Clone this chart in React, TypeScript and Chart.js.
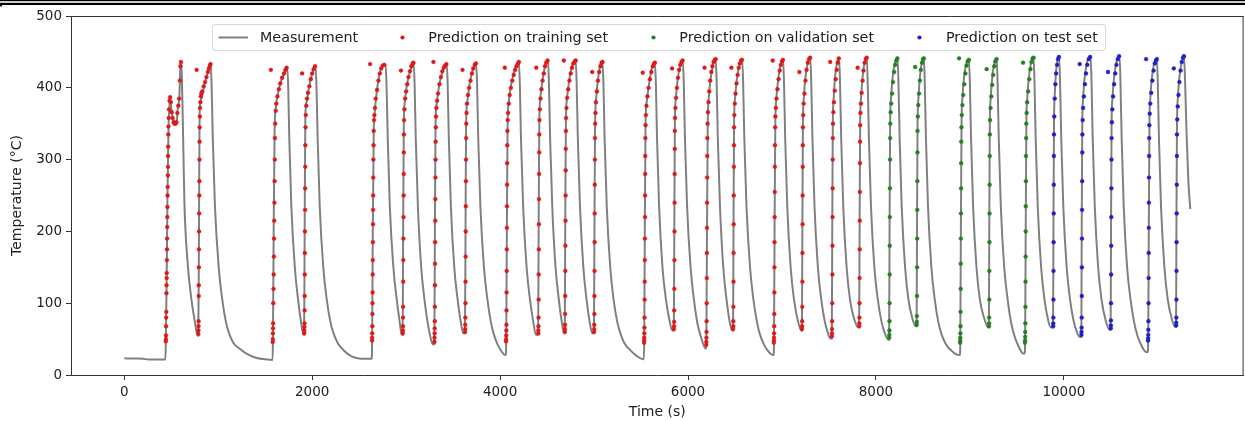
import React, { useEffect, useRef } from "react";
import Chart from "chart.js/auto";

const xTicks = [0, 2000, 4000, 6000, 8000, 10000];
const yTicks = [0, 100, 200, 300, 400, 500];
const xTitle = "Time (s)";
const yTitle = "Temperature (°C)";
const legendLabels = [
  "Measurement",
  "Prediction on training set",
  "Prediction on validation set",
  "Prediction on test set",
];

// Measured temperature [time s, °C]
const measurement: number[][] = [
  [0,23.2],[120,23],[200,22.6],[260,21.6],[438,21.5],
  [442,47],[450,120],[460,250],[470,340],[488,387],[505,366],[530,351],[555,350],[570,372],[585,385],[598,432],[605,436],[612,420],[625,340],[640,240],[675,155],[712,108],[750,75],[780,55],
  [788,55],[795,200],[802,369],[820,385],[855,406],[890,422],[910,432],[920,433],[930,400],[942,330],[965,235],[1005,150],[1043,105],[1080,75],[1110,60],[1160,45],[1235,36],[1310,29],[1400,24],[1520,21.5],[1576,21],
  [1578,21],[1582,46],[1590,200],[1600,340],[1615,375],[1640,395],[1670,410],[1700,420],[1725,427],[1735,428],[1745,400],[1756,330],[1778,235],[1815,150],[1850,105],[1880,75],[1908,56],
  [1914,56],[1920,200],[1927,360],[1940,380],[1965,400],[1995,418],[2020,428],[2036,430],[2046,400],[2058,330],[2080,235],[2118,150],[2155,105],[2192,75],[2222,60],[2270,45],[2345,33],[2420,26],[2500,23],[2630,22.5],
  [2634,23],[2638,49],[2645,200],[2655,340],[2665,365],[2690,397],[2718,420],[2746,430],[2770,432],[2782,432],[2792,400],[2804,330],[2826,235],[2864,150],[2900,105],[2930,75],[2953,56],
  [2963,56],[2968,200],[2975,350],[2985,380],[3010,405],[3040,422],[3065,432],[3080,435],[3090,405],[3102,330],[3125,235],[3160,150],[3195,105],[3230,72],[3260,52],[3282,43],
  [3300,43],[3306,200],[3313,350],[3325,378],[3350,402],[3380,420],[3410,430],[3432,433],[3442,405],[3454,330],[3476,235],[3512,150],[3548,105],[3580,75],[3608,58],
  [3626,58],[3632,200],[3638,350],[3650,380],[3675,405],[3705,423],[3730,432],[3745,434],[3755,405],[3767,330],[3790,235],[3828,150],[3865,105],[3900,75],[3930,58],[3975,42],[4020,32],[4051,28],
  [4061,28],[4065,50],[4072,200],[4080,350],[4092,380],[4115,403],[4145,420],[4175,432],[4200,436],[4210,405],[4222,330],[4245,235],[4282,150],[4318,105],[4352,75],[4380,56],
  [4405,56],[4410,200],[4417,350],[4428,385],[4450,410],[4475,428],[4497,437],[4510,438],[4520,405],[4532,330],[4555,235],[4590,150],[4625,105],[4655,75],[4681,58],
  [4688,58],[4693,200],[4700,350],[4712,385],[4735,410],[4760,428],[4790,437],[4805,438],[4815,405],[4827,330],[4850,235],[4886,150],[4920,105],[4952,75],[4981,58],
  [4999,58],[5004,200],[5011,350],[5022,385],[5040,410],[5060,428],[5080,436],[5090,436],[5100,405],[5112,330],[5135,235],[5172,150],[5208,105],[5245,75],[5275,60],[5320,45],[5390,34],[5460,26],[5523,22],
  [5530,22],[5534,50],[5540,200],[5548,350],[5560,380],[5585,405],[5610,425],[5635,434],[5648,435],[5658,405],[5670,330],[5692,235],[5728,150],[5765,105],[5800,78],[5831,62],
  [5849,62],[5854,200],[5860,350],[5870,385],[5890,412],[5915,430],[5935,437],[5945,438],[5955,405],[5967,330],[5990,235],[6027,150],[6063,105],[6100,72],[6140,52],[6186,37],
  [6192,37],[6196,60],[6202,200],[6210,350],[6220,385],[6240,412],[6262,430],[6282,439],[6295,440],[6305,405],[6317,330],[6340,235],[6375,150],[6410,105],[6442,75],[6468,62],
  [6479,62],[6484,200],[6490,350],[6500,385],[6520,412],[6545,430],[6565,438],[6577,439],[6587,405],[6599,330],[6622,235],[6660,150],[6696,105],[6732,75],[6762,58],[6810,42],[6860,32],[6901,28],
  [6911,28],[6915,50],[6921,200],[6929,350],[6940,385],[6960,412],[6982,430],[7000,438],[7012,439],[7022,405],[7034,330],[7056,235],[7092,150],[7128,105],[7170,75],[7205,62],
  [7212,62],[7217,200],[7223,350],[7232,385],[7250,415],[7272,433],[7290,441],[7302,442],[7312,405],[7324,330],[7346,235],[7382,150],[7418,105],[7455,75],[7485,60],[7513,51],
  [7530,51],[7535,200],[7541,350],[7550,385],[7565,415],[7582,433],[7598,441],[7608,441],[7618,405],[7630,330],[7652,235],[7688,150],[7724,105],[7760,82],[7814,66],
  [7821,66],[7826,200],[7832,350],[7841,385],[7858,415],[7876,433],[7892,441],[7903,442],[7913,405],[7925,330],[7947,235],[7983,150],[8020,105],[8058,75],[8095,58],[8132,49],
  [8140,49],[8145,200],[8151,350],[8160,385],[8178,415],[8198,433],[8215,440],[8230,441],[8240,405],[8252,330],[8274,235],[8310,150],[8346,105],[8385,80],[8422,68],
  [8433,68],[8437,200],[8443,350],[8452,385],[8468,415],[8485,433],[8500,440],[8510,441],[8520,405],[8532,330],[8554,235],[8590,150],[8626,105],[8662,75],[8695,58],[8745,43],[8810,33],[8876,28],
  [8894,28],[8898,50],[8904,200],[8911,350],[8920,385],[8938,415],[8958,432],[8975,438],[8990,439],[9000,405],[9012,330],[9034,235],[9070,150],[9106,105],[9150,80],[9195,66],
  [9202,66],[9206,200],[9212,350],[9221,385],[9238,415],[9256,432],[9272,439],[9285,440],[9295,405],[9307,330],[9329,235],[9365,150],[9402,105],[9440,72],[9480,52],[9525,38],[9566,30],
  [9584,30],[9588,55],[9594,200],[9601,350],[9610,385],[9628,415],[9648,433],[9665,441],[9678,442],[9688,405],[9700,330],[9722,235],[9758,150],[9794,105],[9830,78],[9861,66],
  [9885,66],[9889,200],[9895,350],[9903,390],[9915,420],[9930,437],[9942,443],[9950,443],[9960,405],[9972,330],[9994,235],[10030,150],[10066,105],[10103,76],[10138,60],[10169,53],
  [10186,53],[10190,200],[10196,350],[10205,385],[10222,415],[10242,433],[10260,441],[10285,443],[10295,405],[10307,330],[10329,235],[10365,150],[10401,105],[10445,76],[10487,63],
  [10498,63],[10502,200],[10508,350],[10517,385],[10535,415],[10555,433],[10572,441],[10593,444],[10603,405],[10615,330],[10637,235],[10673,150],[10710,105],[10747,74],[10785,54],[10830,40],[10876,32],
  [10894,32],[10898,55],[10904,200],[10911,350],[10920,385],[10938,415],[10958,432],[10978,439],[10990,440],[11000,405],[11012,330],[11034,235],[11070,150],[11106,105],[11145,80],[11184,67],
  [11194,67],[11198,200],[11204,350],[11213,385],[11230,415],[11250,433],[11268,442],[11278,444],[11290,410],[11305,340],[11325,270],[11346,231],
];

// Predictions on training set (cycles 1-20)
const trainPred: number[][] = [
  [442,47],[443,50],[444,55],[445,68],[446,80],[447,88],[449,114],[450,125],[451,135],[452,142],[454,160],[455,175],[456,190],[457,206],[458,220],[459,234],[461,250],[462,262],[464,278],[465,290],[466,305],[467,318],[469,335],[470,346],[473,358],[476,370],[482,382],[488,387],[495,380],[505,366],[515,358],[525,352],[535,350],[545,350],[555,352],[565,365],[575,375],[585,385],[592,410],[598,430],[603,436],
  [770,425],[788,57],[789,62],[790,68],[791,75],[792,110],[793,125],[794,150],[795,175],[796,200],[797,225],[798,250],[799,270],[800,300],[801,325],[802,345],[804,360],[806,372],[810,380],[815,388],[820,392],[830,395],[845,402],[860,408],[875,415],[890,422],[900,427],[910,431],[918,433],
  [1560,425],[1580,46],[1581,50],[1582,58],[1583,65],[1584,72],[1586,100],[1588,120],[1590,140],[1592,165],[1594,190],[1596,215],[1598,240],[1600,270],[1602,300],[1604,330],[1607,350],[1612,368],[1618,378],[1630,388],[1645,398],[1660,406],[1680,414],[1700,420],[1715,425],[1728,428],
  [1893,420],[1915,58],[1916,62],[1917,67],[1918,72],[1919,90],[1920,110],[1921,140],[1922,170],[1923,200],[1924,230],[1925,260],[1926,290],[1927,320],[1929,345],[1932,362],[1937,375],[1945,385],[1955,393],[1970,402],[1985,412],[2000,420],[2015,426],[2030,430],
  [2616,433],[2637,48],[2638,52],[2639,58],[2640,68],[2641,85],[2642,100],[2643,115],[2644,140],[2645,160],[2646,185],[2647,210],[2648,230],[2649,250],[2650,275],[2651,300],[2653,320],[2655,340],[2658,355],[2662,362],[2668,372],[2676,385],[2690,397],[2705,410],[2720,420],[2735,427],[2750,431],[2768,432],
  [2945,424],[2964,58],[2965,62],[2966,68],[2967,80],[2968,95],[2969,130],[2970,160],[2971,190],[2972,220],[2973,250],[2974,280],[2975,310],[2976,335],[2978,355],[2982,370],[2990,385],[3000,395],[3012,405],[3025,415],[3040,423],[3055,430],[3070,434],[3078,435],
  [3290,436],[3301,46],[3302,52],[3303,58],[3304,65],[3305,75],[3306,95],[3307,125],[3308,155],[3309,185],[3310,215],[3311,245],[3312,275],[3313,300],[3314,325],[3316,345],[3318,360],[3322,372],[3330,382],[3340,392],[3355,405],[3370,415],[3385,423],[3400,428],[3415,431],[3428,433],
  [3600,425],[3627,60],[3628,64],[3629,70],[3630,80],[3631,100],[3632,130],[3633,165],[3634,200],[3635,235],[3636,270],[3637,300],[3638,330],[3640,350],[3643,365],[3648,378],[3658,390],[3670,400],[3685,410],[3700,420],[3715,427],[3730,432],[3742,434],
  [4050,428],[4063,47],[4064,50],[4065,55],[4066,62],[4067,70],[4068,90],[4069,115],[4070,145],[4071,175],[4072,205],[4073,235],[4074,265],[4075,295],[4076,320],[4078,340],[4081,355],[4085,365],[4092,378],[4102,390],[4115,400],[4130,410],[4145,418],[4160,425],[4175,430],[4190,434],[4200,436],
  [4385,428],[4406,58],[4407,62],[4408,68],[4409,80],[4410,105],[4411,140],[4412,175],[4413,210],[4414,245],[4415,280],[4416,310],[4417,335],[4419,355],[4423,370],[4430,385],[4440,398],[4452,410],[4465,420],[4478,430],[4490,435],[4505,438],
  [4678,438],[4689,60],[4690,64],[4691,70],[4692,85],[4693,110],[4694,145],[4695,180],[4696,215],[4697,250],[4698,285],[4699,315],[4700,340],[4702,358],[4706,372],[4714,386],[4725,398],[4738,410],[4752,420],[4766,428],[4780,434],[4795,437],[4805,438],
  [4981,422],[5000,60],[5001,64],[5002,70],[5003,85],[5004,110],[5005,145],[5006,185],[5007,225],[5008,265],[5009,300],[5010,330],[5012,350],[5015,365],[5020,380],[5030,395],[5042,410],[5055,422],[5068,430],[5080,435],[5090,436],
  [5518,421],[5532,45],[5533,48],[5534,52],[5535,58],[5536,66],[5537,80],[5538,105],[5539,130],[5540,160],[5541,190],[5542,220],[5543,250],[5544,280],[5545,305],[5546,330],[5548,348],[5552,362],[5558,375],[5568,388],[5580,400],[5595,412],[5610,422],[5625,430],[5640,434],[5648,435],
  [5830,427],[5850,64],[5851,68],[5852,74],[5853,90],[5854,120],[5855,160],[5856,200],[5857,240],[5858,280],[5859,315],[5860,340],[5862,358],[5866,372],[5873,386],[5882,400],[5893,414],[5905,425],[5918,432],[5930,436],[5942,438],
  [6176,428],[6194,42],[6195,46],[6196,52],[6197,60],[6198,75],[6199,100],[6200,135],[6201,170],[6202,205],[6203,240],[6204,275],[6205,305],[6206,330],[6208,350],[6212,366],[6218,380],[6226,395],[6236,410],[6248,422],[6260,430],[6272,436],[6285,439],[6295,440],
  [6462,428],[6480,64],[6481,68],[6482,75],[6483,95],[6484,130],[6485,170],[6486,210],[6487,250],[6488,290],[6489,320],[6490,345],[6493,362],[6498,378],[6506,392],[6516,406],[6528,418],[6540,428],[6552,434],[6565,438],[6575,439],
  [6901,438],[6913,45],[6914,48],[6915,52],[6916,58],[6917,68],[6918,85],[6919,115],[6920,150],[6921,185],[6922,220],[6923,255],[6924,290],[6925,320],[6927,345],[6930,360],[6935,372],[6942,385],[6952,398],[6964,412],[6976,424],[6988,432],[7000,437],[7010,439],
  [7185,422],[7213,64],[7214,68],[7215,75],[7216,95],[7217,130],[7218,170],[7219,210],[7220,250],[7221,290],[7222,320],[7223,345],[7226,362],[7231,378],[7239,392],[7250,410],[7262,425],[7275,435],[7288,440],[7300,442],
  [7513,436],[7531,54],[7532,58],[7533,64],[7534,75],[7535,100],[7536,140],[7537,180],[7538,220],[7539,260],[7540,300],[7541,330],[7543,350],[7547,366],[7553,380],[7562,396],[7572,412],[7583,425],[7594,435],[7605,441],
  [7805,428],[7822,68],[7823,72],[7824,80],[7825,100],[7826,135],[7827,175],[7828,215],[7829,255],[7830,295],[7831,325],[7832,348],[7835,365],[7840,378],[7848,393],[7858,410],[7868,424],[7880,435],[7892,440],[7902,442],
];

// Predictions on validation set (cycles 21-25)
const valPred: number[][] = [
  [8141,52],[8142,56],[8143,62],[8144,75],[8145,100],[8146,140],[8147,180],[8148,220],[8149,260],[8150,300],[8151,330],[8153,350],[8157,366],[8163,378],[8172,392],[8182,408],[8194,422],[8206,432],[8218,438],[8228,441],
  [8417,429],[8434,70],[8435,74],[8436,82],[8437,110],[8438,150],[8439,190],[8440,230],[8441,270],[8442,310],[8443,340],[8446,360],[8451,376],[8459,392],[8468,410],[8478,425],[8490,435],[8500,440],[8510,441],
  [8885,441],[8896,45],[8897,48],[8898,52],[8899,58],[8900,68],[8901,88],[8902,120],[8903,155],[8904,190],[8905,225],[8906,260],[8907,295],[8908,325],[8910,345],[8914,362],[8920,376],[8929,390],[8940,405],[8952,420],[8965,431],[8978,437],[8990,439],
  [9178,426],[9203,68],[9204,72],[9205,80],[9206,105],[9207,145],[9208,185],[9209,225],[9210,265],[9211,305],[9212,335],[9215,355],[9220,372],[9228,388],[9238,404],[9248,418],[9260,430],[9272,437],[9284,440],
  [9566,435],[9586,45],[9587,48],[9588,53],[9589,60],[9590,72],[9591,95],[9592,130],[9593,165],[9594,200],[9595,235],[9596,270],[9597,305],[9598,330],[9600,350],[9604,365],[9610,380],[9620,395],[9632,412],[9644,426],[9656,436],[9668,441],[9678,442],
];

// Predictions on test set (cycles 26-30)
const testPred: number[][] = [
  [9886,68],[9887,72],[9888,80],[9889,105],[9890,145],[9891,185],[9892,225],[9893,265],[9894,305],[9895,335],[9898,360],[9903,385],[9910,405],[9918,420],[9928,432],[9938,440],[9948,443],
  [10169,433],[10187,56],[10188,60],[10189,66],[10190,80],[10191,110],[10192,150],[10193,190],[10194,230],[10195,270],[10196,310],[10197,335],[10200,355],[10205,372],[10213,388],[10224,405],[10236,420],[10250,432],[10265,440],[10280,443],
  [10470,422],[10499,65],[10500,69],[10501,76],[10502,100],[10503,140],[10504,180],[10505,220],[10506,260],[10507,300],[10508,330],[10511,352],[10516,370],[10524,388],[10535,405],[10547,420],[10560,432],[10574,440],[10588,444],
  [10875,440],[10896,48],[10897,51],[10898,56],[10899,63],[10900,75],[10901,100],[10902,135],[10903,170],[10904,205],[10905,240],[10906,275],[10907,305],[10908,330],[10910,348],[10914,364],[10920,378],[10930,393],[10942,410],[10955,424],[10968,434],[10980,438],[10990,440],
  [11170,427],[11195,69],[11196,73],[11197,80],[11198,105],[11199,145],[11200,185],[11201,225],[11202,265],[11203,305],[11204,335],[11207,356],[11212,374],[11220,390],[11230,408],[11242,424],[11255,436],[11268,442],[11278,444],
];

const GRAY = "#808080";
const RED = "rgb(222,24,24)";
const GREEN = "rgb(34,128,34)";
const BLUE = "rgb(30,30,205)";
const TEXT = "#222";
const FONT = "'DejaVu Sans', sans-serif";

const toXY = (arr: number[][]) => arr.map(([x, y]) => ({ x, y }));

const decorPlugin = {
  id: "decor",
  beforeDraw(chart: any) {
    const ctx = chart.ctx;
    ctx.save();
    ctx.fillStyle = "#fff";
    ctx.fillRect(0, 0, chart.width, chart.height);
    ctx.restore();
  },
  afterDraw(chart: any) {
    const ctx = chart.ctx;
    const { left, top, right, bottom } = chart.chartArea;
    ctx.save();
    ctx.strokeStyle = "#333";
    ctx.lineWidth = 1;
    ctx.beginPath();
    ctx.moveTo(left, top + 0.5);
    ctx.lineTo(right, top + 0.5);
    ctx.moveTo(right - 0.5, top);
    ctx.lineTo(right - 0.5, bottom);
    ctx.stroke();

    const bx = 212.5, by = 24.5, bw = 893, bh = 26, r = 3;
    ctx.beginPath();
    ctx.moveTo(bx + r, by);
    ctx.lineTo(bx + bw - r, by);
    ctx.quadraticCurveTo(bx + bw, by, bx + bw, by + r);
    ctx.lineTo(bx + bw, by + bh - r);
    ctx.quadraticCurveTo(bx + bw, by + bh, bx + bw - r, by + bh);
    ctx.lineTo(bx + r, by + bh);
    ctx.quadraticCurveTo(bx, by + bh, bx, by + bh - r);
    ctx.lineTo(bx, by + r);
    ctx.quadraticCurveTo(bx, by, bx + r, by);
    ctx.closePath();
    ctx.fillStyle = "rgba(255,255,255,0.85)";
    ctx.fill();
    ctx.strokeStyle = "#d6d6d6";
    ctx.lineWidth = 1;
    ctx.stroke();

    const cy = 37.5;
    ctx.strokeStyle = GRAY;
    ctx.lineWidth = 2;
    ctx.beginPath();
    ctx.moveTo(218.5, cy);
    ctx.lineTo(248, cy);
    ctx.stroke();
    const dots = [
      [402.5, RED],
      [653.5, GREEN],
      [919.5, BLUE],
    ];
    dots.forEach(([x, c]) => {
      ctx.fillStyle = c as string;
      ctx.beginPath();
      ctx.arc(x as number, cy, 2.1, 0, Math.PI * 2);
      ctx.fill();
    });
    ctx.fillStyle = TEXT;
    ctx.font = `14.3px ${FONT}`;
    ctx.textBaseline = "middle";
    ctx.textAlign = "left";
    const textX = [260, 428.3, 679.3, 946];
    legendLabels.forEach((t, i) => ctx.fillText(t, textX[i], cy + 0.5));

    ctx.fillStyle = "#000";
    ctx.fillRect(0, 0, chart.width, 1.2);
    ctx.fillRect(0, 2.8, chart.width, 2.2);
    ctx.fillRect(0, 5, 2, 1.5);
    ctx.restore();
  },
};

export default function App() {
  const ref = useRef<HTMLCanvasElement>(null);
  useEffect(() => {
    if (!ref.current) return;
    const pointStyle = (color: string) => ({
      backgroundColor: color,
      borderColor: color,
      borderWidth: 0.5,
      pointRadius: 1.9,
      pointHoverRadius: 1.9,
      order: 0,
    });
    const chart = new Chart(ref.current, {
      type: "scatter",
      data: {
        datasets: [
          {
            type: "line",
            label: legendLabels[0],
            data: toXY(measurement),
            borderColor: GRAY,
            borderWidth: 2,
            pointRadius: 0,
            fill: false,
            cubicInterpolationMode: "monotone",
            order: 5,
          } as any,
          { label: legendLabels[1], data: toXY(trainPred), ...pointStyle(RED) },
          { label: legendLabels[2], data: toXY(valPred), ...pointStyle(GREEN) },
          { label: legendLabels[3], data: toXY(testPred), ...pointStyle(BLUE) },
        ],
      },
      options: {
        responsive: false,
        animation: false,
        events: [],
        layout: { padding: { top: 16, left: 0, right: 0, bottom: 0 } },
        plugins: { legend: { display: false }, tooltip: { enabled: false } },
        scales: {
          x: {
            type: "linear",
            min: -567,
            max: 11913,
            afterBuildTicks: (s: any) => {
              s.ticks = xTicks.map((v) => ({ value: v }));
            },
            afterFit: (s: any) => {
              s.height = 46;
            },
            grid: {
              display: true,
              drawOnChartArea: false,
              drawTicks: true,
              tickLength: 5,
              tickColor: "#333",
              tickWidth: 1,
            },
            border: { display: true, color: "#333", width: 1 },
            ticks: {
              color: TEXT,
              font: { family: FONT, size: 13.5 },
              padding: 4,
              maxRotation: 0,
              autoSkip: false,
              callback: (v: any) => String(v),
            },
            title: {
              display: true,
              text: xTitle,
              color: TEXT,
              font: { family: FONT, size: 14 },
              padding: { top: 0, bottom: 0 },
            },
          },
          y: {
            type: "linear",
            min: 0,
            max: 500,
            afterBuildTicks: (s: any) => {
              s.ticks = yTicks.map((v) => ({ value: v }));
            },
            afterFit: (s: any) => {
              s.width = 71;
            },
            grid: {
              display: true,
              drawOnChartArea: false,
              drawTicks: true,
              tickLength: 5,
              tickColor: "#333",
              tickWidth: 1,
            },
            border: { display: true, color: "#333", width: 1 },
            ticks: {
              color: TEXT,
              font: { family: FONT, size: 13.5 },
              padding: 4,
              callback: (v: any) => String(v),
            },
            title: {
              display: true,
              text: yTitle,
              color: TEXT,
              font: { family: FONT, size: 14 },
              padding: { top: 9, bottom: 0 },
            },
          },
        },
      },
      plugins: [decorPlugin],
    });
    return () => chart.destroy();
  }, []);

  return (
    <div
      style={{
        position: "fixed",
        left: 0,
        top: 0,
        width: 1245,
        height: 421,
        overflow: "hidden",
        background: "#fff",
      }}
    >
      <canvas ref={ref} width={1246} height={421} style={{ display: "block" }} />
    </div>
  );
}
